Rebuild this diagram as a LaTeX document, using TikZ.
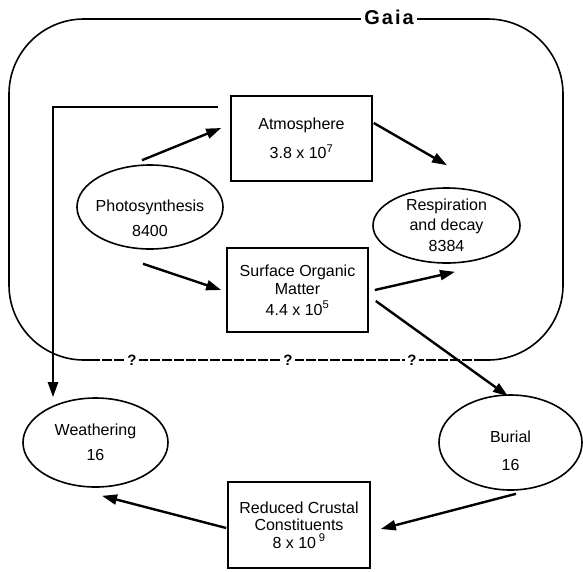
\documentclass[tikz,border=0pt]{standalone}
\usepackage{fontspec}
\setmainfont{Liberation Sans}
\newfontfamily\gaiafont[LetterSpace=10]{Liberation Sans}
\usetikzlibrary{shapes.geometric,arrows.meta,calc}
\tikzset{
  pool/.style={draw,line width=1.6pt,minimum width=141pt,minimum height=85pt,align=center,inner sep=0pt},
  proc/.style={draw,ellipse,line width=1.6pt,align=center,inner sep=-12pt},
  flow/.style={line width=2.4pt,-{Triangle[length=15pt,width=10pt]}},
  query/.style={fill=white,inner sep=2pt,font=\fontsize{15}{18}\selectfont\bfseries}
}
\begin{document}
\begin{tikzpicture}[x=1pt,y=-1pt,font=\fontsize{16}{19}\selectfont]
    \useasboundingbox (0,0) rectangle (583,571);
    % Gaia boundary
    \draw[line width=1.6pt,rounded corners=75pt] (90,360) -- (9,360) -- (9,19) -- (563,19) -- (563,360) -- (480,360);
    \draw[line width=2pt,dash pattern=on 10pt off 2pt] (90,360) -- (480,360);
    \node[fill=white,inner xsep=3pt,font=\gaiafont\fontsize{20}{24}\selectfont\bfseries] (gaia) at (389,17.5) {Gaia};
    \foreach \x/\n in {132/qa,288/qb,412/qc}
        \node[query] (\n) at (\x,360) {?};
    % reservoirs
    \node[pool] (atm) at (301.5,138.5) {Atmosphere\\[10pt]3.8 x 10\textsuperscript{7}};
    \node[pool,minimum height=84pt] (som) at (297.5,290) {Surface Organic\\[-1pt]Matter\\[2pt]4.4 x 10\textsuperscript{5}};
    \node[pool,minimum width=142pt,minimum height=86pt] (rcc) at (299,525) {Reduced Crustal\\[-2pt]Constituents\\[-1pt]8 x 10\,\textsuperscript{9}};
    % processes
    \node[proc,minimum width=146pt,minimum height=84pt] (pho) at (150,207) {\rule{0pt}{35pt}Photosynthesis\\[6pt]8400};
    \node[proc,minimum width=147pt,minimum height=75pt] (res) at (446.5,225.5) {Respiration\\[1pt]and decay\\[2pt]8384};
    \node[proc,minimum width=145pt,minimum height=89pt] (wea) at (95.5,442.5) {Weathering\\[6pt]16};
    \node[proc,minimum width=143pt,minimum height=95pt] (bur) at (510.5,442.5) {\rule{0pt}{29pt}Burial\\[9pt]16};
    % fluxes
    \draw[flow] ($(pho.north)+(-8,-4)$) -- ($(atm.west)+(-9,-10.5)$);
    \draw[flow] ($(pho.south)+(-7,14)$) -- ($(som.west)+(-5,0)$);
    \draw[flow] ($(atm.east)+(1,-15.5)$) -- ($(res.north)+(0.5,-22)$);
    \draw[flow] ($(som.east)+(6,0)$) -- ($(res.south)+(8.5,8)$);
    \draw[flow] ($(som.east)+(7,11)$) -- ($(bur.north)+(-2.5,2)$);
    \draw[flow] ($(bur.south)+(5.5,3)$) -- ($(rcc.east)+(10,4)$);
    \draw[flow] ($(rcc.west)+(-1,3)$) -- ($(wea.south)+(6.5,8)$);
    \draw[flow] ($(atm.north west)+(-12,12)$) -| ($(wea.north)+(-42.5,0)$);
\end{tikzpicture}
\end{document}
